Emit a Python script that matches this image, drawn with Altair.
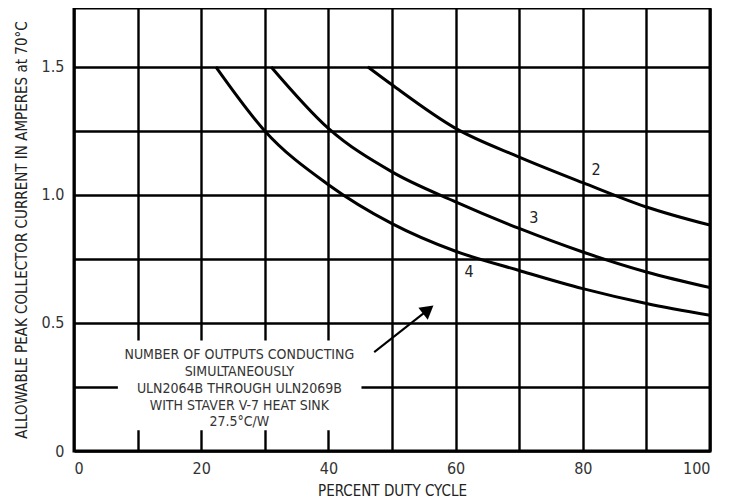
import altair as alt
import pandas as pd

# Curve data (duty cycle %, amperes)
duty_2 = [46.2, 50, 60, 70, 80, 90, 100]
amps_2 = [1.5, 1.43, 1.26, 1.148, 1.048, 0.953, 0.882]
duty_3 = [31.0, 40, 50, 60, 70, 80, 90, 100]
amps_3 = [1.5, 1.26, 1.09, 0.973, 0.869, 0.777, 0.699, 0.638]
duty_4 = [22.3, 30, 40, 50, 60, 70, 80, 90, 100]
amps_4 = [1.5, 1.25, 1.04, 0.888, 0.78, 0.705, 0.634, 0.576, 0.53]

curve_names = ["2", "3", "4"]
label_x = [82.1, 72.3, 62.1]
label_y = [1.096, 0.908, 0.698]

x_ticks = [0, 10, 20, 30, 40, 50, 60, 70, 80, 90, 100]
y_ticks = [0, 0.25, 0.5, 0.75, 1.0, 1.25, 1.5]

note_lines = [
    "NUMBER OF OUTPUTS CONDUCTING",
    "SIMULTANEOUSLY",
    "ULN2064B THROUGH ULN2069B",
    "WITH STAVER V-7 HEAT SINK",
    "27.5°C/W",
]
note_x = 26.0
note_y = 0.374
box_x = [6.9, 45.2]
box_y = [0.081, 0.432]
arrow_x = [47.2, 55.7]
arrow_y = [0.386, 0.552]

FONT = "DejaVu Sans Condensed, Liberation Sans, sans-serif"

rows = []
for name, xs, ys in [("2", duty_2, amps_2), ("3", duty_3, amps_3), ("4", duty_4, amps_4)]:
    for xv, yv in zip(xs, ys):
        rows.append({"curve": name, "duty": xv, "amps": yv})
curves_df = pd.DataFrame(rows)

xscale = alt.Scale(domain=[0, 100], nice=False, zero=False)
yscale = alt.Scale(domain=[0, 1.73], nice=False, zero=False)

x_axis = alt.Axis(
    values=x_ticks, title="PERCENT DUTY CYCLE",
    labelExpr="datum.value % 20 == 0 ? datum.label : ''",
    labelPadding=9, titlePadding=7,
)
y_axis = alt.Axis(
    values=y_ticks, title="ALLOWABLE PEAK COLLECTOR CURRENT IN AMPERES at 70°C",
    labelExpr="datum.value == 0 ? '0' : ((datum.value * 4) % 2 == 0 ? format(datum.value, '.1f') : '')",
    labelPadding=10, titlePadding=12,
)

base = alt.Chart(curves_df)

lines = base.mark_line(color="black", strokeWidth=3, interpolate="monotone", clip=True).encode(
    x=alt.X("duty:Q", scale=xscale, axis=x_axis),
    y=alt.Y("amps:Q", scale=yscale, axis=y_axis),
    detail="curve:N",
)

labels_df = pd.DataFrame({"name": curve_names, "x": label_x, "y": label_y})
labels = alt.Chart(labels_df).mark_text(font=FONT, fontSize=16, color="#222").encode(
    x=alt.X("x:Q", scale=xscale), y=alt.Y("y:Q", scale=yscale), text="name:N"
)

box_df = pd.DataFrame({"x": [box_x[0]], "x2": [box_x[1]], "y": [box_y[0]], "y2": [box_y[1]]})
box = alt.Chart(box_df).mark_rect(color="white").encode(
    x=alt.X("x:Q", scale=xscale), x2="x2:Q",
    y=alt.Y("y:Q", scale=yscale), y2="y2:Q",
)

note_df = pd.DataFrame({"x": [note_x], "y": [note_y], "t": ["\n".join(note_lines)]})
note = alt.Chart(note_df).mark_text(
    font=FONT, fontSize=14, color="#333", lineBreak="\n", lineHeight=16.8,
    align="center", baseline="middle",
).encode(x=alt.X("x:Q", scale=xscale), y=alt.Y("y:Q", scale=yscale), text="t:N")

arrow_df = pd.DataFrame({"x": arrow_x, "y": arrow_y})
arrow_line = alt.Chart(arrow_df).mark_line(color="black", strokeWidth=2).encode(
    x=alt.X("x:Q", scale=xscale), y=alt.Y("y:Q", scale=yscale)
)
head_df = pd.DataFrame({"x": [arrow_x[1]], "y": [arrow_y[1]]})
arrow_head = alt.Chart(head_df).mark_point(
    shape="triangle-up", angle=52, size=230, filled=True, color="black", opacity=1
).encode(x=alt.X("x:Q", scale=xscale), y=alt.Y("y:Q", scale=yscale))

chart = alt.layer(box, lines, labels, note, arrow_line, arrow_head).properties(
    width=636, height=443,
    autosize=alt.AutoSizeParams(type="none"),
    padding={"left": 66, "top": 0, "right": 20, "bottom": 53},
).configure_view(
    stroke="black", strokeWidth=3
).configure_axis(
    grid=True, gridColor="black", gridWidth=2.4, gridOpacity=1,
    ticks=False, domain=False,
    labelFont=FONT, labelFontSize=16, labelColor="#333",
    titleFont=FONT, titleFontSize=15, titleFontWeight="normal", titleColor="#222",
)

chart.save("out.html", embed_options={"renderer": "svg", "actions": False})
